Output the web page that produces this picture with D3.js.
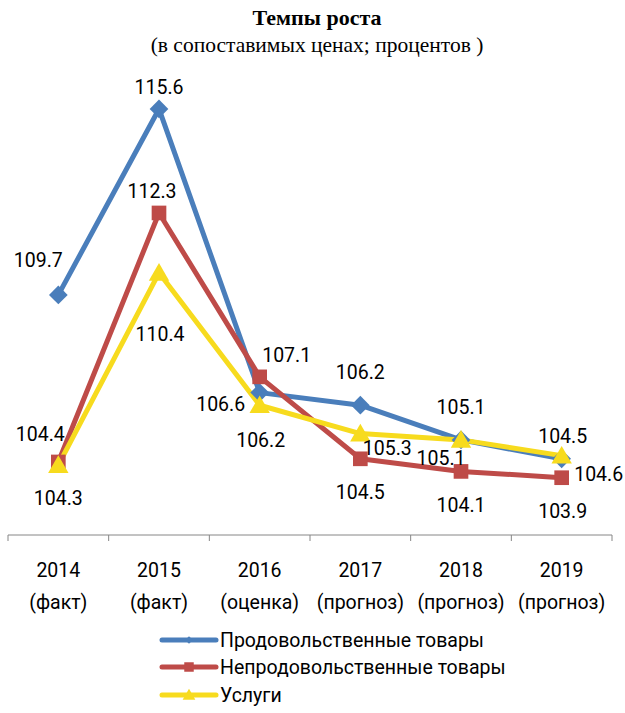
<!DOCTYPE html>
<html><head><meta charset="utf-8">
<script src="https://cdn.jsdelivr.net/npm/d3@7"></script>
<style>body{margin:0;background:#fff}</style>
</head><body>
<svg id="c" width="625" height="713"></svg>
<script>
const years = ["2014", "2015", "2016", "2017", "2018", "2019"];
const notes = ["(факт)", "(факт)", "(оценка)", "(прогноз)", "(прогноз)", "(прогноз)"];
const food = [109.7, 115.6, 106.6, 106.2, 105.1, 104.5];
const nonFood = [104.4, 112.3, 107.1, 104.5, 104.1, 103.9];
const services = [104.3, 110.4, 106.2, 105.3, 105.1, 104.6];
const seriesNames = ["Продовольственные товары", "Непродовольственные товары", "Услуги"];

const svg = d3.select("#c");
const font = "Roboto, 'Noto Sans', sans-serif";
const x = d3.scalePoint().domain(years).range([8, 612]).padding(0.5);
const xBand = d3.scaleBand().domain(years).range([8, 612]);
const y = d3.scaleLinear().domain([102, 118]).range([537.6, 33.3]);
const axisY = 535;

// title
svg.append("text").attr("x", 317).attr("y", 25).attr("text-anchor", "middle")
  .attr("font-family", "'Liberation Serif', serif").attr("font-weight", "bold").attr("font-size", 22)
  .text("Темпы роста");
svg.append("text").attr("x", 317).attr("y", 52).attr("text-anchor", "middle")
  .attr("font-family", "'Liberation Serif', serif").attr("font-size", 21.5)
  .text("(в сопоставимых ценах; процентов )");

// axis
svg.append("line").attr("x1", 8).attr("x2", 612).attr("y1", axisY).attr("y2", axisY)
  .attr("stroke", "#868686").attr("stroke-width", 1);
const edges = years.map(d => xBand(d)).concat([612]);
svg.selectAll(".tk").data(edges).join("line")
  .attr("x1", d => d).attr("x2", d => d).attr("y1", axisY).attr("y2", axisY + 6)
  .attr("stroke", "#868686");
const cat = svg.selectAll(".cat").data(years).join("text")
  .attr("text-anchor", "middle").attr("font-family", font).attr("font-size", 19.5).attr("fill", "#000");
cat.append("tspan").attr("x", d => x(d)).attr("y", 577).text(d => d);
cat.append("tspan").attr("x", d => x(d)).attr("y", 609).text((d, i) => notes[i]);

const colors = ["#4A7EBB", "#BE4B48", "#F7DB1E"];
const data = [food, nonFood, services];
const markers = [d3.symbolSquare, d3.symbolSquare, d3.symbolTriangle];
const rot = [45, 0, 0];
const markerSize = [175, 215, 180];
const legendMarkerSize = [30, 90, 70];

const line = d3.line().x((d, i) => x(years[i])).y(d => y(d));

// label offsets (layout only)
const labelOffsets = [
  [[-20, -35], [0, -22], [-39, 12], [0, -33], [0, -33], [1, -23]],
  [[-18, -28], [-7, -22], [27, -22], [0, 33], [0, 34], [1, 33]],
  [[0, 33], [1, 61], [1, 35], [27, 15], [-20, 18], [37, 19]]
];

data.forEach((s, k) => {
  svg.append("path").attr("d", line(s)).attr("fill", "none")
    .attr("stroke", colors[k]).attr("stroke-width", 5).attr("stroke-linejoin", "round");
});
data.forEach((s, k) => {
  svg.selectAll(".m" + k).data(s).join("path")
    .attr("transform", (d, i) => `translate(${x(years[i])},${y(d) + (k === 2 ? 2 : 0)}) rotate(${rot[k]})`)
    .attr("d", d3.symbol(markers[k], markerSize[k])).attr("fill", colors[k]);
});
data.forEach((s, k) => {
  svg.selectAll(".l" + k).data(s).join("text")
    .attr("x", (d, i) => x(years[i]) + labelOffsets[k][i][0])
    .attr("y", (d, i) => y(d) + labelOffsets[k][i][1])
    .attr("dy", "0.35em").attr("text-anchor", "middle")
    .attr("font-family", font).attr("font-size", 19.5).attr("fill", "#000")
    .text(d => d.toFixed(1));
});

// legend
const ly = [640, 667, 695];
seriesNames.forEach((n, k) => {
  const g = svg.append("g").attr("transform", `translate(0,${ly[k]})`);
  g.append("line").attr("x1", 162).attr("x2", 216).attr("y1", 0).attr("y2", 0)
    .attr("stroke", colors[k]).attr("stroke-width", 5).attr("stroke-linecap", "round");
  g.append("path").attr("transform", `translate(189,${k === 2 ? 1 : 0}) rotate(${rot[k]})`)
    .attr("d", d3.symbol(markers[k], legendMarkerSize[k])).attr("fill", colors[k]);
  g.append("text").attr("x", 220).attr("y", 0).attr("dy", "0.35em")
    .attr("font-family", font).attr("font-size", 19.5).attr("fill", "#000").text(n);
});
</script>
</body></html>
